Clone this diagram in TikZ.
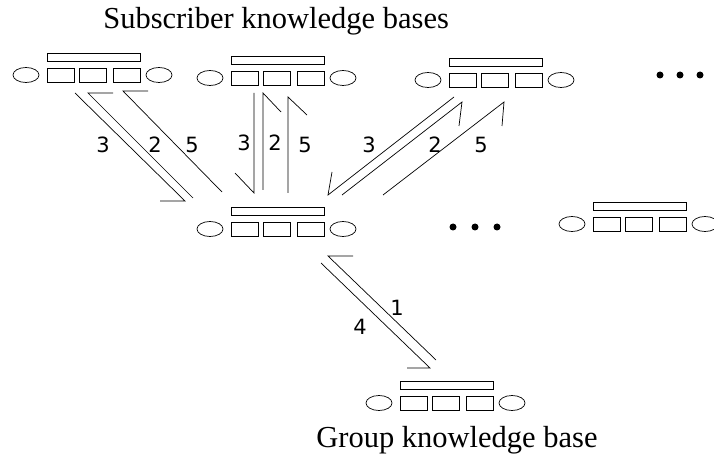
\documentclass[tikz,border=0pt]{standalone}
\usepackage{fontspec}
\setmainfont{Liberation Serif}
\newfontfamily\digitfont{DejaVu Sans}
\begin{document}
\begin{tikzpicture}[x=1pt,y=-1pt,line width=0.7pt,
  kb/.pic={
    \draw (0,0) rectangle (93,8);
    \draw (0,15) rectangle (27,29);
    \draw (32,15) rectangle (59,29);
    \draw (66,15) rectangle (93,29);
    \draw (-21,22) ellipse [x radius=13,y radius=7.5];
    \draw (112,22) ellipse [x radius=13,y radius=7.5];
  },
  num/.style={font=\digitfont\fontsize{21}{24}\selectfont,inner sep=0pt},
  title/.style={font=\fontsize{30.5}{34}\selectfont,inner sep=0pt,anchor=base west},
  dot/.style={circle,fill=black,inner sep=0pt,minimum size=7pt}]
\useasboundingbox (0,0) rectangle (714,454);
% knowledge bases
\pic (g1) at (47,53) {kb};
\pic (g2) at (231,56) {kb};
\pic (g3) at (449,58) {kb};
\pic (c) at (231,207) {kb};
\pic (r) at (593,202) {kb};
\pic (b) at (400,381) {kb};
% titles
\node[title] (t1) at (103,29) {Subscriber knowledge bases};
\node[title] (t2) at (316,447) {Group knowledge base};
% dots
\node[dot] (d1) at (660,75) {};
\node[dot] (d2) at (680,75) {};
\node[dot] (d3) at (700,75) {};
\node[dot] (d4) at (453,227) {};
\node[dot] (d5) at (475,227) {};
\node[dot] (d6) at (497,227) {};
% group 1 arrows
\coordinate (a13s) at (75,93);  \coordinate (a13t) at (185,201); \coordinate (a13b) at (160,201);
\coordinate (a12s) at (193,198); \coordinate (a12t) at (88,93);  \coordinate (a12b) at (113,93);
\coordinate (a15s) at (222,192); \coordinate (a15t) at (123,91); \coordinate (a15b) at (148,91);
\draw (a13s) -- (a13t) -- (a13b);
\draw (a12s) -- (a12t) -- (a12b);
\draw (a15s) -- (a15t) -- (a15b);
% group 2 arrows
\coordinate (a23s) at (254,93);  \coordinate (a23t) at (254,193); \coordinate (a23b) at (235,173);
\coordinate (a22s) at (263,190); \coordinate (a22t) at (263,93);  \coordinate (a22b) at (281,112);
\coordinate (a25s) at (288,193); \coordinate (a25t) at (288,97);  \coordinate (a25b) at (307,115);
\draw (a23s) -- (a23t) -- (a23b);
\draw (a22s) -- (a22t) -- (a22b);
\draw (a25s) -- (a25t) -- (a25b);
% group 3 arrows
\coordinate (a33s) at (454,97);  \coordinate (a33t) at (328,195); \coordinate (a33b) at (332,172);
\coordinate (a32s) at (342,195); \coordinate (a32t) at (462,102); \coordinate (a32b) at (459,126);
\coordinate (a35s) at (383,195); \coordinate (a35t) at (504,102); \coordinate (a35b) at (502,126);
\draw (a33s) -- (a33t) -- (a33b);
\draw (a32s) -- (a32t) -- (a32b);
\draw (a35s) -- (a35t) -- (a35b);
% center to group
\coordinate (a1s) at (436,360); \coordinate (a1t) at (328,256); \coordinate (a1b) at (353,256);
\coordinate (a4s) at (321,263); \coordinate (a4t) at (430,368); \coordinate (a4b) at (407,368);
\draw (a1s) -- (a1t) -- (a1b);
\draw (a4s) -- (a4t) -- (a4b);
% labels
\node[num] (l13) at (103,145) {3};
\node[num] (l12) at (155,145) {2};
\node[num] (l15) at (192,145) {5};
\node[num] (l23) at (244,143) {3};
\node[num] (l22) at (275,143) {2};
\node[num] (l25) at (305,145) {5};
\node[num] (l33) at (369,145) {3};
\node[num] (l32) at (435,145) {2};
\node[num] (l35) at (481,145) {5};
\node[num] (l1) at (397,308) {1};
\node[num] (l4) at (360,327) {4};
\end{tikzpicture}
\end{document}
